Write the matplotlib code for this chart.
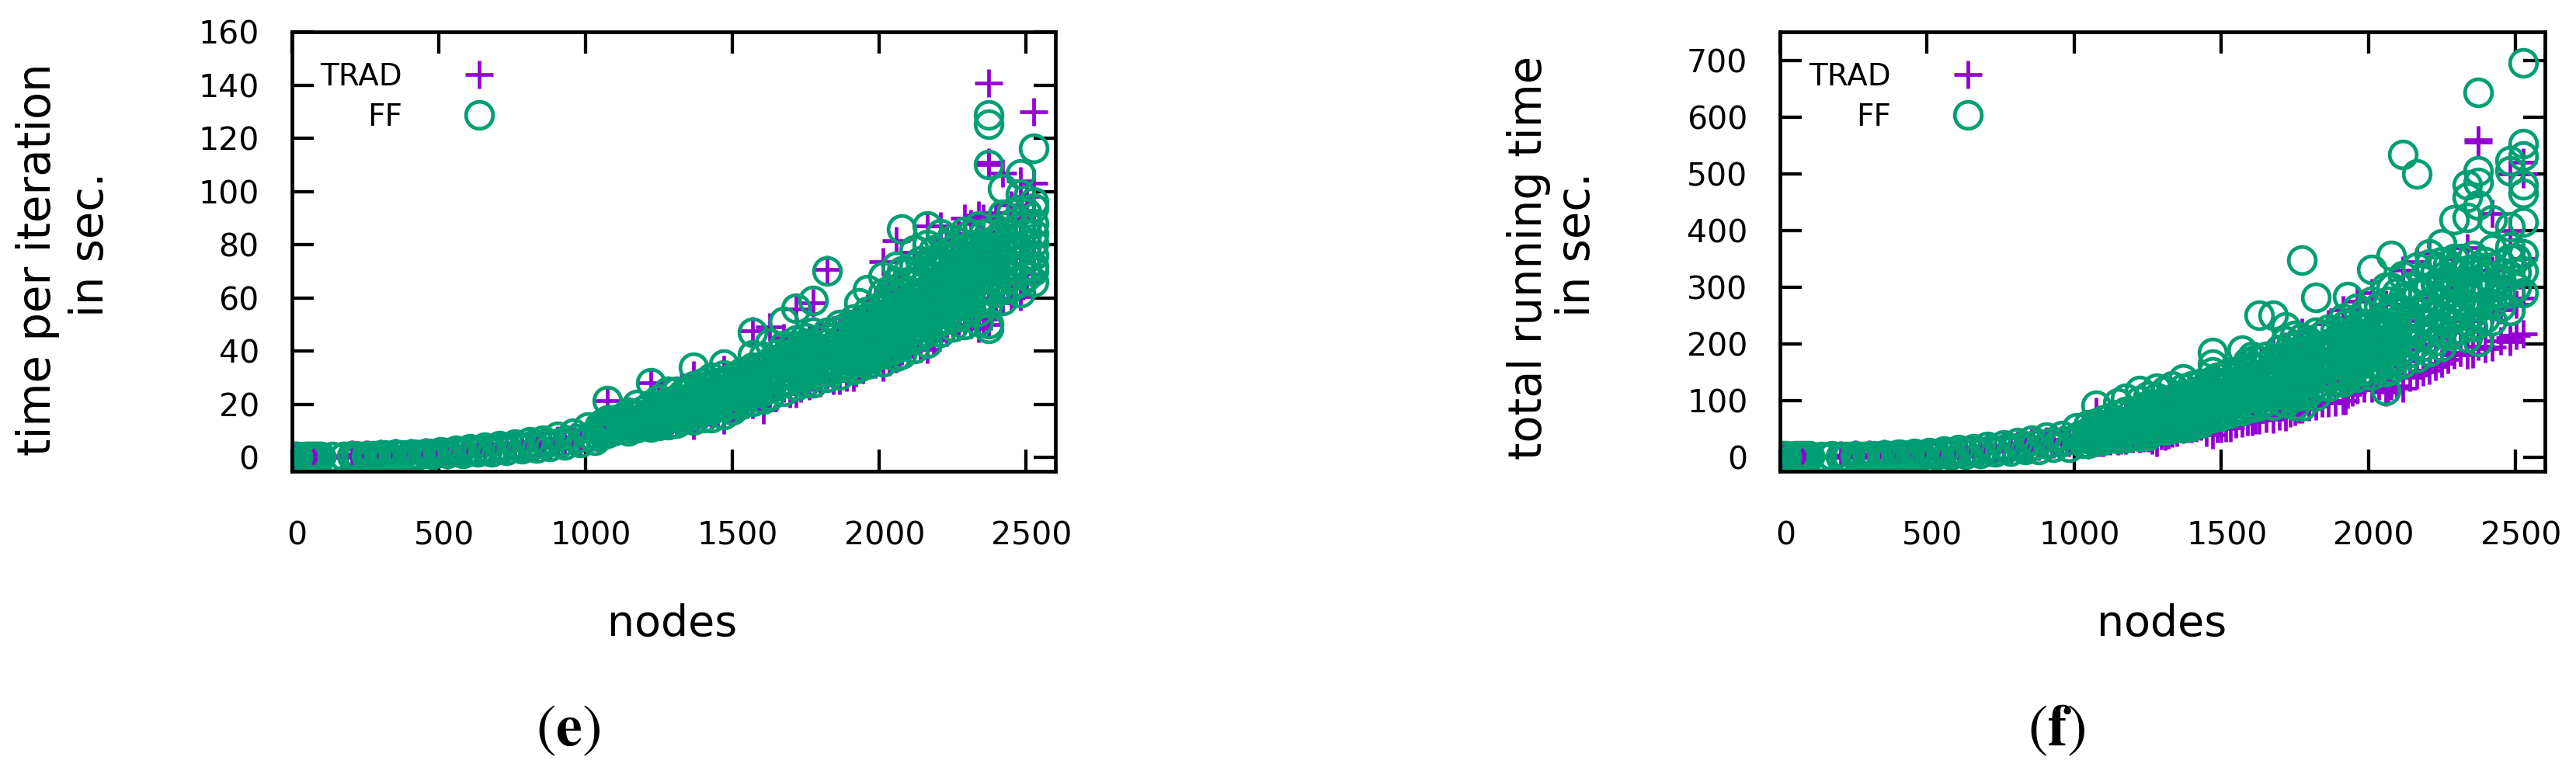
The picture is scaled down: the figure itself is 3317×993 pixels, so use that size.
import matplotlib
matplotlib.use("Agg")
import matplotlib.pyplot as plt
from matplotlib.transforms import ScaledTranslation

plt.rcParams["mathtext.fontset"] = "stix"

W, H = 3317, 993
PURPLE = "#9400D3"
GREEN = "#009E73"

# ── Low end: runs every ~50 nodes, a narrow band ─────────────────────────────
NODES_LOW_A = [5, 12, 20, 50, 60, 70, 80, 90, 100, 178, 206, 255, 304, 354, 405, 456, 507,
               558, 608, 656, 706, 759, 809, 855, 906, 958, 1008]
NODES_LOW_B = [5, 12, 20, 50, 60, 70, 80, 90, 100, 178, 230, 279, 328, 378, 429, 480, 531,
               582, 632, 680, 730, 783, 833, 879, 930, 982, 1032]
NODES_LOW_C = [140, 218, 267, 316, 366, 417, 468, 519, 570, 620, 668, 718, 771, 821, 867, 918, 970, 1020]

FF_E_LOW_A = [.3, .3, .3, .3, .3, .3, .3, .3, .3, .3, .6, .7, .9, 1.1, 1.2, 1.6, 2.0,
              2.6, 3.2, 3.8, 4.5, 5.0, 5.8, 6.4, 7.8, 9.2, 11.5]
FF_E_LOW_B = [.2, .2, .2, .2, .2, .2, .2, .2, .2, .2, .4, .5, .7, .9, 1.0, 1.2, 1.4,
              1.6, 2.0, 2.2, 2.8, 3.2, 3.6, 4.0, 4.6, 5.6, 6.6]
FF_E_LOW_C = [.3, .5, .6, .8, 1, 1.1, 1.4, 1.7, 2.1, 2.6, 3, 3.6, 4.1, 4.6, 5.2, 5.9, 7, 8.2]
TRAD_E_LOW_A = [.7, .7, .7, .7, .7, .7, .7, .7, .7, .7, 1.2, 1.3, 1.5, 1.7, 1.8, 2.1, 2.4,
                2.8, 3.3, 3.7, 4.3, 4.8, 5.3, 5.9, 6.6, 7.7, 8.9]
TRAD_E_LOW_B = [0, 0, 0, 0, 0, 0, 0, 0, 0, 0, 0, 0, .1, .3, .4, .7, 1.0,
                1.4, 1.9, 2.3, 2.9, 3.4, 3.9, 4.5, 5.2, 6.3, 7.5]

FF_F_LOW_A = [2, 2, 2, 2, 2, 2, 2, 2, 2, 2, 1.5, 2, 3, 4, 5, 6, 8,
              10, 13, 15, 19, 22, 25, 30, 35, 38, 52]
FF_F_LOW_B = [1, 1, 1, 1, 1, 1, 1, 1, 1, 1, .5, 1, 1, 2, 2, 2, 4,
              4, 5, 7, 9, 10, 13, 14, 17, 18, 24]
FF_F_LOW_C = [1.5, 1, 1.5, 2, 3, 3.5, 4, 6, 7, 9, 11, 14, 16, 19, 22, 26, 28, 38]
TRAD_F_LOW_A = [2, 2, 2, 2, 2, 2, 2, 2, 2, 2, 4, 4.5, 5, 6, 6.5, 7, 9,
                10, 12, 14, 17, 19, 22, 25, 29, 31, 41]
TRAD_F_LOW_B = [0, 0, 0, 0, 0, 0, 0, 0, 0, 0, 0, 0, 0, 0, .5, 1, 3,
                4, 6, 8, 11, 13, 16, 19, 23, 25, 35]

# ── Upper range: several runs per node count ─────────────────────────────────
NODES_HIGH = [1047, 1074, 1097, 1147, 1175, 1222, 1250, 1281, 1310, 1332, 1369, 1400, 1430, 1470,
              1500, 1530, 1570, 1605, 1628, 1676, 1718, 1750, 1775, 1822, 1864, 1913, 1930, 1960,
              2012, 2059, 2077, 2118, 2164, 2208, 2250, 2290, 2337, 2372, 2420, 2481, 2525]
NODES_MID = [1060, 1085, 1122, 1160, 1198, 1236, 1265, 1295, 1320, 1350, 1385, 1415, 1450, 1485,
             1515, 1550, 1588, 1616, 1652, 1697, 1734, 1762, 1798, 1843, 1888, 1921, 1945, 1986,
             2035, 2068, 2097, 2140, 2186, 2229, 2270, 2313, 2354, 2396, 2450, 2503]

FF_E_HIGH = [
    [8, 10, 12], [9, 12, 14, 21.4], [10, 12, 14], [10, 12, 14, 17], [11, 13, 16, 20],
    [11.5, 14, 17, 20, 28], [12, 15, 18, 22], [12.4, 15, 18, 21, 25], [13, 16, 19, 22, 25],
    [14, 17, 20, 24], [14, 17, 20, 23, 27, 34], [15, 18, 21, 24, 28], [15, 18, 21, 25, 30],
    [16, 19, 22, 25, 28, 31, 35], [18, 21, 24, 27, 30], [20, 23, 26, 29, 32],
    [21, 24, 27, 30, 34, 38.5, 47], [22, 25, 28, 31, 34, 38], [23, 26, 29, 32, 36, 43],
    [25, 28, 31, 34, 38, 42, 51], [27, 30, 33, 36, 40, 44, 56], [28, 31, 34, 37, 41, 45],
    [28, 32, 35, 38, 42, 47, 59], [30, 33, 36, 39, 43, 47, 70], [31, 34, 37, 40, 44, 48, 50],
    [33, 36, 39, 42, 45, 48, 52], [34, 38, 42, 46, 50, 58], [35, 38, 41, 44, 47, 51, 55, 63],
    [36, 39, 42, 45, 49, 53, 57, 62, 68], [38, 41, 44, 48, 52, 56, 60, 66, 72],
    [39, 43, 47, 51, 56, 62, 70, 86], [41, 45, 49, 53, 57, 61, 66, 72, 78],
    [43, 47, 51, 55, 59, 63, 68, 73, 80, 87], [47, 51, 55, 59, 63, 67, 71, 76, 84],
    [49, 53, 57, 61, 65, 69, 73, 78, 82], [50, 54, 58, 62, 66, 70, 74, 78, 85],
    [51, 55, 59, 63, 67, 71, 75, 80, 87], [48.5, 50.3, 58, 63, 67, 71, 75, 79, 84, 110, 125.2, 128.8],
    [59, 63, 67, 71, 75, 80, 85, 91.4, 101], [62, 66, 70, 74, 78, 82, 87, 93, 99, 106.6],
    [66, 70, 72, 76, 80.5, 84, 88, 93.8, 96, 116.2],
]
FF_E_MID = [
    [9, 11, 13], [10, 12, 14], [11, 13, 15], [11, 14, 16], [12, 15, 18], [13, 16, 19], [14, 17, 20],
    [15, 18, 21], [16, 19, 22], [16, 19, 22, 25], [17, 20, 23, 26], [18, 21, 24, 27], [19, 22, 25, 28],
    [20, 23, 26, 29], [21, 24, 27, 30], [23, 26, 29, 32], [25, 28, 31, 34], [26, 29, 32, 35],
    [27, 30, 33, 36, 39], [29, 32, 35, 38, 41], [30, 33, 36, 39, 42], [31, 34, 37, 40, 43],
    [32, 35, 38, 41, 44], [33, 36, 39, 42, 45], [34, 37, 40, 43, 46, 49], [36, 39, 42, 45, 48],
    [37, 40, 43, 46, 49, 52], [38, 41, 44, 47, 50, 53, 56], [40, 43, 46, 49, 52, 55, 58, 62],
    [42, 45, 48, 51, 54, 57, 60, 64], [44, 47, 50, 53, 56, 59, 62, 66, 70],
    [46, 49, 52, 55, 58, 61, 64, 67, 70, 74], [50, 53, 56, 59, 62, 65, 68, 71, 74, 78],
    [52, 56, 60, 64, 68, 72, 76, 80], [53, 57, 61, 65, 69, 73, 77, 81], [56, 60, 64, 68, 72, 76, 80, 84],
    [60, 64, 68, 72, 76, 80, 84], [62, 66, 70, 74, 78, 82, 86], [64, 68, 72, 76, 80, 84, 88, 92],
    [68, 72, 76, 80, 84, 88, 92],
]

TRAD_E_HIGH = [
    [9, 11], [10, 21.5], [11, 13], [11, 14], [12, 16], [13, 17, 28], [13, 17, 21], [14, 19],
    [14, 18, 22], [15, 19], [12, 17, 22, 31], [16, 21], [16, 22, 27], [14, 20, 26, 33], [18, 25],
    [20, 27], [20, 26, 33, 47.5], [18, 26, 33], [24, 32, 49], [26, 34, 45], [24, 32, 40, 55.8],
    [29, 37], [30, 38, 58], [31, 40, 70.8], [29, 38, 47], [30, 40, 50], [35, 46], [36, 46, 56],
    [34, 44, 55, 73.6], [37, 48, 60, 81.5], [40, 52, 65], [42, 55, 77], [40.7, 52, 65, 87],
    [47, 58, 70, 87], [50, 62, 76], [52, 66, 80, 90], [48.5, 60, 75, 91], [50, 65, 80, 110, 111, 140.6],
    [59, 70, 85, 107], [60.5, 75, 90, 104], [69, 80, 92, 103, 130],
]
TRAD_E_MID = [
    [10, 12], [10, 13], [11, 14], [11, 15], [12, 16], [13, 18], [13, 19], [14, 20], [15, 21], [15, 23],
    [16, 24], [17, 25], [17, 27], [18, 28], [19, 29], [20, 31], [21, 33], [22, 35], [23, 38], [24, 40],
    [26, 42], [27, 44], [28, 46], [29, 48], [30, 50], [32, 52], [33, 55], [35, 58], [36, 62], [38, 65],
    [40, 70], [41, 74], [44, 78], [47, 82], [49, 84], [50, 88], [52, 90], [58, 92], [60, 95], [66, 98],
]

FF_F_HIGH = [
    [24, 33, 45, 57], [28, 38, 50, 60, 91], [30, 42, 55, 65], [32, 44, 58, 75, 95],
    [34, 48, 62, 80, 104], [36, 52, 68, 85, 100, 117], [38, 55, 72, 90, 108],
    [53, 70, 88, 105, 121], [48, 65, 82, 100, 118], [50, 66, 84, 102, 125],
    [51, 68, 85, 104, 122, 138], [55, 72, 90, 108, 125], [60, 78, 95, 112, 130],
    [70, 85, 100, 118, 135, 150, 164, 184], [72, 90, 108, 126, 142], [78, 95, 112, 130, 150],
    [82, 100, 118, 135, 155, 188], [87, 105, 122, 140, 160, 178], [90, 108, 125, 145, 170, 250],
    [92, 112, 130, 150, 172, 250], [95, 115, 135, 155, 178, 205, 229], [92, 115, 138, 160, 185, 215],
    [90, 112, 135, 160, 185, 210, 348], [108, 128, 150, 172, 195, 220, 282],
    [124, 142, 160, 180, 200, 225], [133, 150, 170, 190, 215, 245], [138, 158, 180, 205, 235, 283],
    [140, 160, 182, 205, 230, 262], [145, 165, 185, 210, 235, 275, 331],
    [117, 150, 170, 195, 220, 250, 300], [155, 175, 200, 225, 260, 300, 356],
    [165, 190, 215, 245, 280, 320, 534], [175, 200, 225, 255, 290, 335, 500],
    [186, 210, 235, 265, 300, 340, 358], [195, 220, 245, 275, 305, 345, 376],
    [220, 245, 270, 300, 330, 350, 419], [210, 240, 270, 300, 330, 423, 458, 480],
    [203, 235, 265, 300, 335, 445, 484, 505, 643], [240, 270, 300, 335, 367, 419],
    [258, 290, 320, 350, 371, 406, 505, 523], [290, 328, 358, 415, 465, 480, 531, 553, 695],
]
FF_F_MID = [
    [30, 40, 50], [32, 43, 54], [35, 46, 58, 70], [38, 50, 62, 75], [40, 52, 65, 80], [44, 58, 72, 88],
    [46, 60, 75, 92], [50, 65, 80, 95], [54, 68, 84, 100], [56, 72, 88, 105], [60, 76, 92, 110],
    [62, 80, 98, 116], [70, 86, 102, 120], [75, 92, 108, 125, 140], [80, 96, 112, 128, 145],
    [85, 100, 116, 132, 150], [90, 105, 120, 136, 152, 168], [94, 110, 126, 142, 158, 172],
    [98, 114, 130, 146, 162, 178], [100, 118, 136, 154, 172, 190], [105, 122, 140, 158, 176, 194],
    [108, 126, 144, 162, 180, 198], [115, 132, 150, 168, 186, 204], [125, 142, 160, 178, 196, 214],
    [135, 152, 170, 188, 206, 224], [145, 162, 180, 198, 216, 234], [150, 168, 186, 204, 222],
    [155, 175, 195, 215, 235, 255], [160, 180, 200, 220, 240, 265], [165, 185, 205, 225, 250, 275],
    [175, 195, 215, 240, 265, 290], [185, 205, 225, 250, 275, 300], [195, 215, 240, 265, 290, 315],
    [205, 230, 255, 280, 305, 330], [215, 240, 265, 290, 315, 340], [225, 250, 275, 300, 325, 350],
    [230, 255, 280, 305, 330, 355], [245, 270, 295, 320, 345], [265, 290, 315, 340], [300, 325, 350],
]

TRAD_F_HIGH = [
    [22, 35, 48], [25, 40, 55, 80], [26, 42], [28, 45, 60], [30, 50, 70], [32, 55, 75], [34, 60, 85],
    [26, 50, 75], [37, 60, 90], [42, 70], [49, 75, 110], [50, 80], [55, 85, 115], [40, 70, 100, 130],
    [50, 80, 115], [51, 85, 120], [60, 90, 125, 165], [63, 95, 130], [65, 100, 140], [67, 105, 150, 190],
    [71, 110, 155, 195], [80, 120, 165], [85, 125, 175, 220], [90, 130, 180], [95, 135, 190, 235],
    [99, 140, 195, 260], [110, 160, 215], [119, 165, 220, 275], [122, 170, 225, 290], [115, 160, 210, 270],
    [125, 175, 230], [122, 170, 240, 330], [145, 200, 265, 345], [153, 210, 280, 360], [165, 225, 300],
    [180, 227, 290, 350], [180, 240, 310, 370], [195, 260, 330, 555, 560], [194, 260, 330, 430],
    [203, 210, 300, 400, 500], [217, 280, 350, 500, 520],
]
TRAD_F_MID = [
    [24, 40], [26, 44], [28, 48], [30, 52], [32, 55], [34, 60], [30, 58], [38, 66], [40, 70], [44, 75],
    [50, 80], [52, 85], [44, 80], [50, 90], [52, 95], [58, 100], [62, 105], [65, 110], [68, 115], [72, 120],
    [78, 125], [85, 130], [88, 135], [95, 145], [97, 150], [100, 155], [115, 165], [122, 170], [125, 175],
    [118, 180], [125, 185], [140, 190], [150, 200], [160, 210], [172, 220], [185, 230], [182, 240],
    [192, 250], [205, 260], [215, 270],
]

X_TICKS = [0, 500, 1000, 1500, 2000, 2500]
E_Y_TICKS = [0, 20, 40, 60, 80, 100, 120, 140, 160]
F_Y_TICKS = [0, 100, 200, 300, 400, 500, 600, 700]


def flatten(nodes, columns):
    xs, ys = [], []
    for node, vals in zip(nodes, columns):
        xs += [node] * len(vals)
        ys += vals
    return xs, ys


def draw_panel(fig, left, right, ylim, yticks, trad_low, ff_low, trad_cols, ff_cols):
    top, bottom = 41, 607
    ax = fig.add_axes([left / W, 1 - bottom / H, (right - left) / W, (bottom - top) / H])
    ax.set_axisbelow(True)

    tx, ty = flatten(NODES_HIGH + NODES_MID, trad_cols)
    fx, fy = flatten(NODES_HIGH + NODES_MID, ff_cols)
    trad_x = NODES_LOW_A + NODES_LOW_B
    ff_x = NODES_LOW_A + NODES_LOW_B + NODES_LOW_C
    plus = dict(marker="+", ms=26, mew=3.4, color=PURPLE, ls="none")
    ring = dict(marker="o", ms=25, mew=3.4, mfc="none", color=GREEN, ls="none")

    ax.plot(trad_x + tx, trad_low + ty, label="TRAD", **plus)
    ax.plot(ff_x + fx, ff_low + fy, label="FF", **ring)

    ax.set_xlim(0, 2600)
    ax.set_ylim(*ylim)
    ax.set_xticks(X_TICKS)
    ax.set_yticks(yticks)
    ax.tick_params(direction="in", length=20, width=3.1, top=True, right=True, labelsize=29.5)
    ax.tick_params(axis="x", pad=46)
    ax.tick_params(axis="y", pad=30)
    for spine in ax.spines.values():
        spine.set_linewidth(3.4)

    # gnuplot put the x tick labels a little right of their ticks
    shift = ScaledTranslation(7 / fig.dpi, 0, fig.dpi_scale_trans)
    for lab in ax.get_xticklabels():
        lab.set_transform(lab.get_transform() + shift)

    ax.legend(loc="upper left", bbox_to_anchor=((left + 37) / W, 1 - 80 / H), bbox_transform=fig.transFigure,
              frameon=False, markerfirst=False, alignment="right", fontsize=28, borderpad=0, borderaxespad=0,
              handlelength=2, handletextpad=1.55, labelspacing=0.35, numpoints=1)
    return ax


fig = plt.figure(figsize=(W / 100, H / 100), dpi=100)

draw_panel(fig, 375.5, 1359, (-5.2, 160), E_Y_TICKS, TRAD_E_LOW_A + TRAD_E_LOW_B,
           FF_E_LOW_A + FF_E_LOW_B + FF_E_LOW_C, TRAD_E_HIGH + TRAD_E_MID, FF_E_HIGH + FF_E_MID)
draw_panel(fig, 2292, 3277, (-25, 750), F_Y_TICKS, TRAD_F_LOW_A + TRAD_F_LOW_B,
           FF_F_LOW_A + FF_F_LOW_B + FF_F_LOW_C, TRAD_F_HIGH + TRAD_F_MID, FF_F_HIGH + FF_F_MID)


def px_text(x, y, s, **kw):
    fig.text(x / W, 1 - y / H, s, ha="center", va="center", **kw)


px_text(49, 334, "time per iteration", rotation=90, fontsize=41.5)
px_text(116, 315, "in sec.", rotation=90, fontsize=41.5)
px_text(1968, 332, "total running time", rotation=90, fontsize=41.5)
px_text(2031, 315, "in sec.", rotation=90, fontsize=41.5)
px_text(866, 804, "nodes", fontsize=40)
px_text(2784, 804, "nodes", fontsize=40)
px_text(732, 939, r"$(\mathbf{e})$", fontsize=55)
px_text(2648, 939, r"$(\mathbf{f})$", fontsize=55)

fig.savefig("out.png", dpi=100)
